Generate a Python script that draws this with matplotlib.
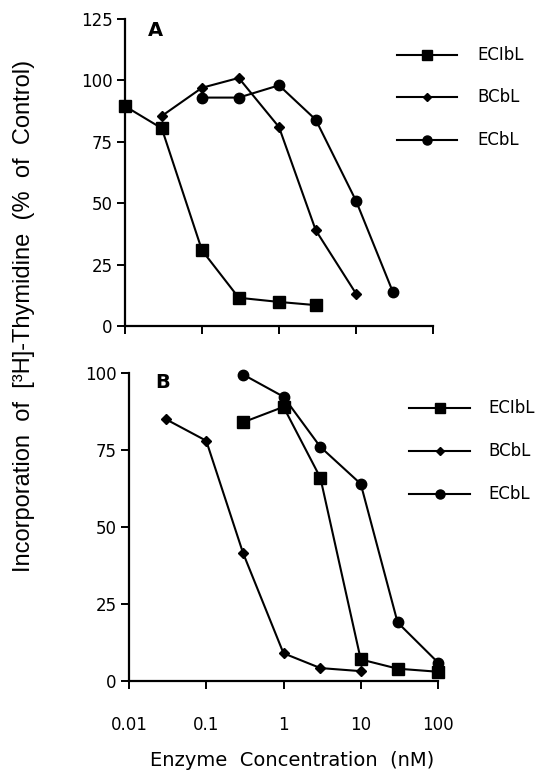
import matplotlib
matplotlib.use("Agg")
import matplotlib.pyplot as plt
from matplotlib.lines import Line2D
from matplotlib.ticker import FixedLocator, NullLocator

# ---------------- data ----------------
series_names = ["ECIbL", "BCbL", "ECbL"]

# Panel A
a_eclbl_x = [0.01, 0.03, 0.1, 0.3, 1, 3]
a_eclbl_y = [89.5, 80.5, 30.8, 11.5, 9.8, 8.5]
a_bcbl_x = [0.03, 0.1, 0.3, 1, 3, 10]
a_bcbl_y = [85.5, 97, 101, 81, 39, 13.2]
a_ecbl_x = [0.1, 0.3, 1, 3, 10, 30]
a_ecbl_y = [93, 93, 98, 84, 51, 14]

# Panel B
b_eclbl_x = [0.3, 1, 3, 10, 30, 100]
b_eclbl_y = [84, 89, 66, 7, 4, 3]
b_bcbl_x = [0.03, 0.1, 0.3, 1, 3, 10]
b_bcbl_y = [85, 78, 41.5, 9, 4.2, 3.2]
b_ecbl_x = [0.3, 1, 3, 10, 30, 100]
b_ecbl_y = [99.5, 92.3, 76, 64, 19, 6]

x_ticks = [0.01, 0.1, 1, 10, 100]
x_ticklabels = ["0.01", "0.1", "1", "10", "100"]
a_yticks = [0, 25, 50, 75, 100, 125]
b_yticks = [0, 25, 50, 75, 100]

markers = {"ECIbL": "s", "BCbL": "D", "ECbL": "o"}
msizes = {"ECIbL": 8.0, "BCbL": 5.5, "ECbL": 7.5}

W, H = 541, 770
fig = plt.figure(figsize=(W / 100, H / 100), dpi=100)
fig.patch.set_facecolor("white")

def px_rect(x0, x1, ytop, ybot):
    return [x0 / W, 1 - ybot / H, (x1 - x0) / W, (ybot - ytop) / H]

def fx(x):
    return x / W

def fy(y):
    return 1 - y / H

axA = fig.add_axes(px_rect(125, 433, 19, 326))
axB = fig.add_axes(px_rect(129, 438, 373, 681))

tick_font = dict(family="DejaVu Sans", size=12)

def style_axis(ax, ymax, yticks, show_xlabels):
    ax.set_xscale("log")
    ax.set_xlim(0.01, 100)
    ax.set_ylim(0, ymax)
    for s in ["top", "right"]:
        ax.spines[s].set_visible(False)
    for s in ["left", "bottom"]:
        ax.spines[s].set_linewidth(1.6)
        ax.spines[s].set_color("black")
    ax.xaxis.set_major_locator(FixedLocator(x_ticks))
    ax.xaxis.set_minor_locator(NullLocator())
    ax.yaxis.set_major_locator(FixedLocator(yticks))
    ax.set_yticklabels([str(t) for t in yticks], **tick_font)
    if show_xlabels:
        ax.set_xticklabels(x_ticklabels, **tick_font)
    else:
        ax.set_xticklabels([])
    ax.tick_params(axis="both", direction="out", length=6, width=1.4, color="black")
    ax.tick_params(axis="y", pad=3)
    ax.tick_params(axis="x", pad=19)
    ax.patch.set_alpha(0)

def plot_series(ax, x, y, name):
    ax.plot(x, y, color="black", lw=1.5, marker=markers[name],
            markersize=msizes[name], markerfacecolor="black",
            markeredgecolor="black", clip_on=False, zorder=3)

style_axis(axA, 125, a_yticks, False)
style_axis(axB, 100, b_yticks, True)

plot_series(axA, a_eclbl_x, a_eclbl_y, "ECIbL")
plot_series(axA, a_bcbl_x, a_bcbl_y, "BCbL")
plot_series(axA, a_ecbl_x, a_ecbl_y, "ECbL")

plot_series(axB, b_eclbl_x, b_eclbl_y, "ECIbL")
plot_series(axB, b_bcbl_x, b_bcbl_y, "BCbL")
plot_series(axB, b_ecbl_x, b_ecbl_y, "ECbL")

# panel letters
fig.text(fx(155), fy(31), "A", fontsize=14, fontweight="bold",
         family="DejaVu Sans", ha="center", va="center")
fig.text(fx(163), fy(382), "B", fontsize=14, fontweight="bold",
         family="DejaVu Sans", ha="center", va="center")

# manual legends
def draw_legend(x0, x1, xtext, rows):
    for name, yrow in zip(series_names, rows):
        fig.add_artist(Line2D([fx(x0), fx(x1)], [fy(yrow), fy(yrow)],
                              color="black", lw=1.5, transform=fig.transFigure))
        fig.add_artist(Line2D([fx((x0 + x1) / 2)], [fy(yrow)],
                              marker=markers[name], markersize=msizes[name] - 1.0,
                              color="black", lw=0, transform=fig.transFigure))
        fig.text(fx(xtext), fy(yrow), name, fontsize=12, family="DejaVu Sans",
                 ha="left", va="center")

draw_legend(397, 457, 477, [55, 97, 140])
draw_legend(409, 470, 488, [408, 451, 494])

# axis titles
fig.text(fx(292), fy(760), "Enzyme  Concentration  (nM)", fontsize=14,
         family="DejaVu Sans", ha="center", va="center")
fig.text(fx(24), fy(316), "Incorporation  of  [\u00b3H]-Thymidine  (%  of  Control)",
         fontsize=17, family="Liberation Sans", rotation=90,
         ha="center", va="center")

fig.savefig("out.png", dpi=100, facecolor="white")
